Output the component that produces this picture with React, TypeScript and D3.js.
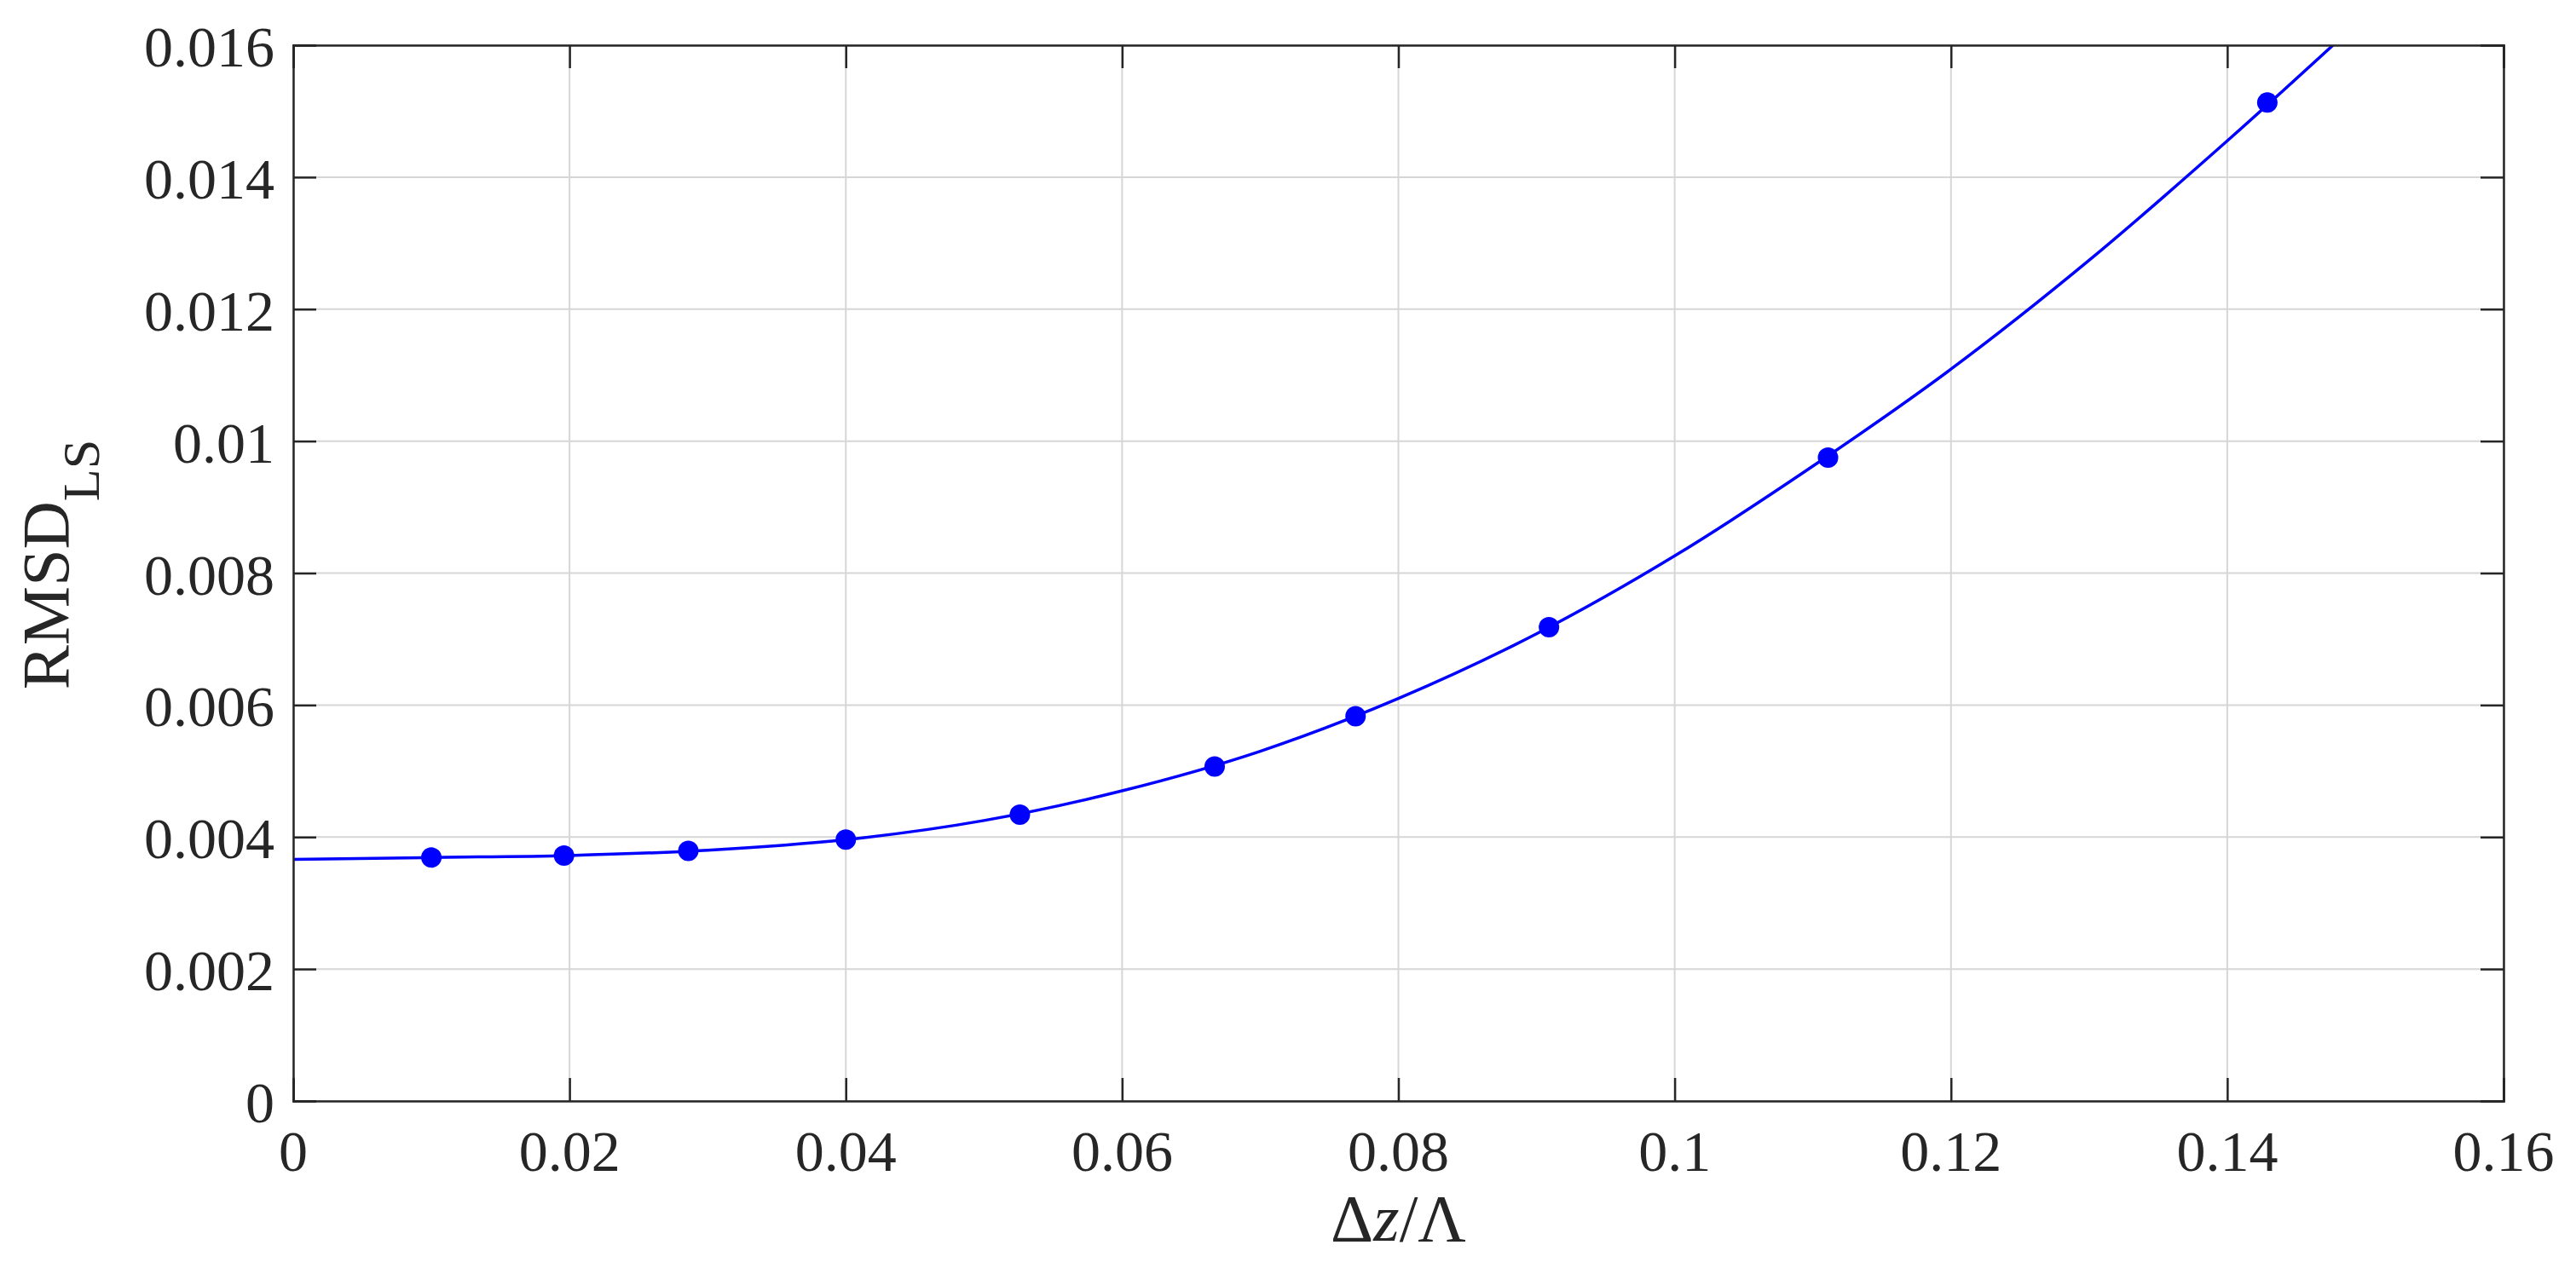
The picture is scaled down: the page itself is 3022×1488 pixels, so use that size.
import React, { useEffect, useRef } from 'react';
import * as d3 from 'd3';

// measured points (markers)
const dzRatio = [0.01, 0.0196, 0.0286, 0.04, 0.0526, 0.0667, 0.0769, 0.0909, 0.1111, 0.1429];
const rmsdLS = [0.00369, 0.00372, 0.00379, 0.00396, 0.00434, 0.00507, 0.00583, 0.00718, 0.00975, 0.01513];

// fitted curve
const fitX = [0, 0.01, 0.02, 0.03, 0.04, 0.05, 0.06, 0.07, 0.08, 0.09, 0.1, 0.11, 0.12, 0.13, 0.14, 0.15];
const fitY = [0.00366, 0.00369, 0.00372, 0.0038, 0.00396, 0.00425, 0.0047, 0.0053, 0.0061, 0.00708, 0.00826, 0.00962, 0.01109, 0.01274, 0.01455, 0.01645];

const xTicks = [0, 0.02, 0.04, 0.06, 0.08, 0.1, 0.12, 0.14, 0.16];
const yTicks = [0, 0.002, 0.004, 0.006, 0.008, 0.01, 0.012, 0.014, 0.016];

const W = 3022;
const H = 1488;

const App = () => {
  const svgRef = useRef(null);

  useEffect(() => {
    const svg = d3.select(svgRef.current);
    svg.selectAll('*').remove();

    const margin = { top: 53, right: 85, bottom: 196, left: 344 };
    const width = W - margin.left - margin.right;
    const height = H - margin.top - margin.bottom;
    const axisColor = '#262626';
    const font = '"Liberation Serif", "Times New Roman", serif';
    const tickLen = 27;

    const xScale = d3.scaleLinear().domain([0, 0.16]).range([0, width]);
    const yScale = d3.scaleLinear().domain([0, 0.016]).range([height, 0]);

    svg.append('rect').attr('width', W).attr('height', H).attr('fill', '#fff');

    svg.append('defs').append('clipPath').attr('id', 'plotClip')
      .append('rect').attr('width', width).attr('height', height);

    const g = svg.append('g')
      .attr('transform', `translate(${margin.left}, ${margin.top})`);

    // grid
    g.append('g').selectAll('line')
      .data(xTicks)
      .enter().append('line')
      .attr('x1', d => xScale(d)).attr('x2', d => xScale(d))
      .attr('y1', 0).attr('y2', height)
      .attr('stroke', '#d6d6d6').attr('stroke-width', 2);
    g.append('g').selectAll('line')
      .data(yTicks)
      .enter().append('line')
      .attr('x1', 0).attr('x2', width)
      .attr('y1', d => yScale(d)).attr('y2', d => yScale(d))
      .attr('stroke', '#d6d6d6').attr('stroke-width', 2);

    // fit curve
    const line = d3.line()
      .x((d, i) => xScale(fitX[i]))
      .y((d, i) => yScale(fitY[i]))
      .curve(d3.curveMonotoneX);
    g.append('path')
      .datum(fitX)
      .attr('clip-path', 'url(#plotClip)')
      .attr('d', line)
      .attr('fill', 'none')
      .attr('stroke', '#0000ff')
      .attr('stroke-width', 3.5);

    // markers
    g.selectAll('.pt')
      .data(dzRatio)
      .enter().append('circle')
      .attr('class', 'pt')
      .attr('cx', d => xScale(d))
      .attr('cy', (d, i) => yScale(rmsdLS[i]))
      .attr('r', 12)
      .attr('fill', '#0000ff');

    // axes box + ticks (MATLAB style, inward, mirrored)
    const xAxisB = d3.axisBottom(xScale).tickValues(xTicks).tickSize(-tickLen).tickFormat(() => '');
    const xAxisT = d3.axisTop(xScale).tickValues(xTicks).tickSize(-tickLen).tickFormat(() => '');
    const yAxisL = d3.axisLeft(yScale).tickValues(yTicks).tickSize(-tickLen).tickFormat(() => '');
    const yAxisR = d3.axisRight(yScale).tickValues(yTicks).tickSize(-tickLen).tickFormat(() => '');

    const styleAxis = sel => {
      sel.selectAll('path').attr('stroke', axisColor).attr('stroke-width', 2.5);
      sel.selectAll('line').attr('stroke', axisColor).attr('stroke-width', 2.5);
    };
    g.append('g').attr('transform', `translate(0, ${height})`).call(xAxisB).call(styleAxis);
    g.append('g').call(xAxisT).call(styleAxis);
    g.append('g').call(yAxisL).call(styleAxis);
    g.append('g').attr('transform', `translate(${width}, 0)`).call(yAxisR).call(styleAxis);

    const fmt = d => (d === 0 ? '0' : String(+d.toFixed(3)));

    // tick labels
    g.selectAll('.xlab')
      .data(xTicks)
      .enter().append('text')
      .attr('x', d => xScale(d))
      .attr('y', height + 82)
      .attr('text-anchor', 'middle')
      .style('font-family', font)
      .style('font-size', '68px')
      .style('fill', axisColor)
      .text(fmt);

    g.selectAll('.ylab')
      .data(yTicks)
      .enter().append('text')
      .attr('x', -22)
      .attr('y', d => yScale(d) + 25)
      .attr('text-anchor', 'end')
      .style('font-family', font)
      .style('font-size', '68px')
      .style('fill', axisColor)
      .text(fmt);

    // x-axis title
    const xt = g.append('text')
      .attr('x', width / 2)
      .attr('y', height + 164)
      .attr('text-anchor', 'middle')
      .style('font-family', font)
      .style('font-size', '78px')
      .style('fill', axisColor);
    xt.append('tspan').text('Δ');
    xt.append('tspan').style('font-style', 'italic').text('z');
    xt.append('tspan').text('/Λ');

    // y-axis title
    const yt = svg.append('text')
      .attr('transform', `translate(80, ${margin.top + height / 2 - 10}) rotate(-90)`)
      .attr('text-anchor', 'middle')
      .style('font-family', font)
      .style('font-size', '78px')
      .style('fill', axisColor);
    yt.append('tspan').text('RMSD');
    yt.append('tspan').attr('dy', 36).style('font-size', '62px').text('LS');
  }, []);

  return (
    <svg ref={svgRef} width={W} height={H} style={{ position: 'absolute', left: 0, top: 0 }}></svg>
  );
};

export default App;
